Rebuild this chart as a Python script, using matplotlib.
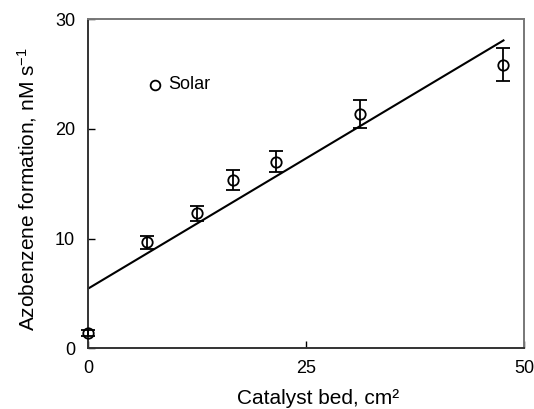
import numpy as np
import matplotlib
matplotlib.use("Agg")
from matplotlib import pyplot as plt

plt.rcParams['font.family'] = ['Liberation Sans', 'DejaVu Sans']
plt.rcParams['mathtext.default'] = 'regular'

# catalyst bed area vs azobenzene formation rate
bed_area = [0.0, 6.7, 12.5, 16.6, 21.5, 31.2, 47.6]
rate = [1.4, 9.65, 12.3, 15.3, 17.0, 21.35, 25.85]
rate_err = [0.3, 0.6, 0.7, 0.9, 0.95, 1.3, 1.5]

# linear fit line
fit_x = [0.0, 47.6]
fit_y = [5.45, 28.05]

fig = plt.figure(figsize=(5.34, 4.09), dpi=100)
ax = fig.add_axes([0.1655, 0.1485, 0.8165, 0.805])

ax.plot(fit_x, fit_y, color='black', lw=1.5, clip_on=False)
# hollow markers so the error bar shows through the circle
ax.errorbar(bed_area, rate, yerr=rate_err, fmt='o', mfc='none', mec='black',
            ms=7.5, mew=1.3, ecolor='black', elinewidth=1.3, capsize=5,
            capthick=1.3, clip_on=False, zorder=3)

# legend drawn by hand as marker + text
ax.plot([7.65], [24.0], 'o', mfc='none', mec='black', ms=7, mew=1.3)
ax.text(9.1, 24.0, 'Solar', fontsize=13, va='center', ha='left')

ax.set_xlim(0, 50)
ax.set_ylim(0, 30)
ax.set_xticks([0, 25, 50])
ax.set_yticks([0, 10, 20, 30])
ax.tick_params(direction='in', length=5, width=1, labelsize=13)
ax.tick_params(axis='x', pad=8.5)
ax.tick_params(axis='y', pad=9.5)
for side, s in ax.spines.items():
    s.set_linewidth(1.4)
    s.set_color('#333333' if side in ('left', 'bottom') else '#777777')

ax.set_xlabel('Catalyst bed, cm²', fontsize=15)
ax.set_ylabel('Azobenzene formation, nM s$^{-1}$', fontsize=15)
ax.xaxis.set_label_coords(0.527, -0.123)
ax.yaxis.set_label_coords(-0.113, 0.484)

plt.savefig('out.png', dpi=100)
